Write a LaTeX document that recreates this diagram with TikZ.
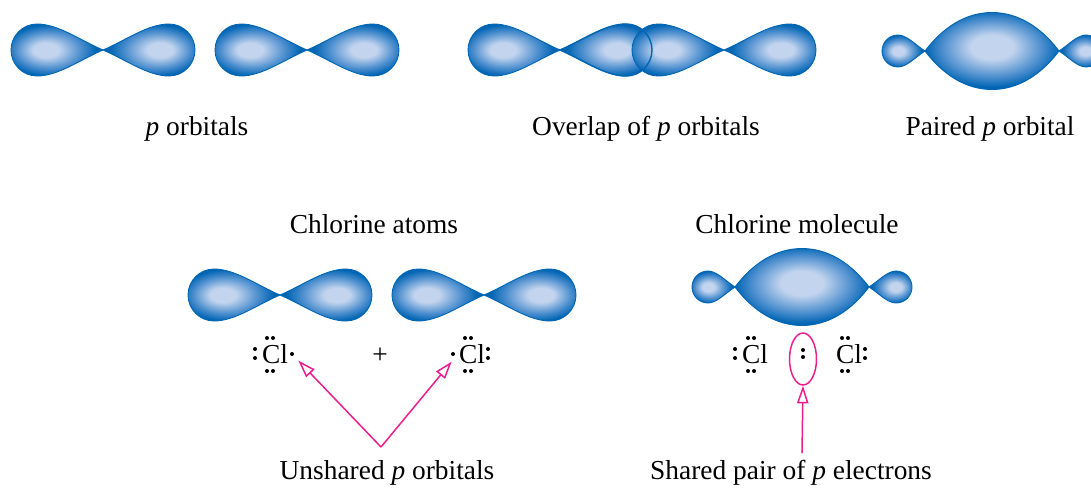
\documentclass[tikz,border=0pt]{standalone}
\usepackage{fontspec}
\setmainfont{Liberation Serif}
\usetikzlibrary{arrows.meta,shapes.geometric}
\definecolor{orblight}{RGB}{194,212,238}
\definecolor{orbmid}{RGB}{72,140,205}
\definecolor{orbdark}{RGB}{0,101,179}
\definecolor{arrowpink}{RGB}{236,30,140}
\pgfdeclareradialshading{lobeglow}{\pgfpoint{-7bp}{0bp}}{color(0bp)=(orblight); color(7bp)=(orblight); color(18bp)=(orbmid); color(25bp)=(orbdark); color(50bp)=(orbdark)}
\pgfdeclareradialshading{lensglow}{\pgfpoint{0bp}{3bp}}{color(0bp)=(orblight); color(8bp)=(orblight); color(19bp)=(orbmid); color(25bp)=(orbdark); color(50bp)=(orbdark)}
\tikzset{
    orbital/.style={shading=lobeglow, draw=orbdark, line width=0.5pt},
    lobe rim/.style={shade=false, draw=orbdark, line width=0.8pt},
    caption/.style={anchor=base, inner sep=0pt},
    atom/.style={anchor=base, inner sep=0pt},
    edot/.style={fill=black},
    pointer/.style={draw=arrowpink, line width=0.85pt, -{Triangle[open, length=10pt, width=6.5pt]}},
    % one lobe: direction (-1 or 1) / length / half height
    pics/lobe/.style args={#1/#2/#3}{code={
        \pgfmathsetmacro\lobeend{#1*#2}
        \pgfmathsetmacro\lobemid{#1*(#2-#3)}
        \pgfmathsetmacro\lobek{#1*0.552*#3}
        \pgfmathsetmacro\lobeang{90+90*#1}
        \path[shading angle=\lobeang, orbital] (0,0)
            .. controls ({0.35*\lobemid},{0.38*#3}) and ({0.68*\lobemid},#3) .. (\lobemid,#3)
            .. controls ({\lobemid+\lobek},#3) and (\lobeend,{0.552*#3}) .. (\lobeend,0)
            .. controls (\lobeend,{-0.552*#3}) and ({\lobemid+\lobek},-#3) .. (\lobemid,-#3)
            .. controls ({0.68*\lobemid},-#3) and ({0.35*\lobemid},{-0.38*#3}) .. (0,0) -- cycle;
    }},
    % bonding lens: width / half height
    pics/lens/.style args={#1/#2}{code={
        \path[orbital, shading=lensglow] (0,0)
            .. controls ({0.13*#1},{0.6*#2}) and ({0.3*#1},#2) .. ({0.5*#1},#2)
            .. controls ({0.7*#1},#2) and ({0.87*#1},{0.6*#2}) .. (#1,0)
            .. controls ({0.87*#1},{-0.6*#2}) and ({0.7*#1},-#2) .. ({0.5*#1},-#2)
            .. controls ({0.3*#1},-#2) and ({0.13*#1},{-0.6*#2}) .. (0,0) -- cycle;
    }},
    pics/p orbital/.style={code={
        \pic at (0,0) {lobe=-1/92/26};
        \pic at (0,0) {lobe=1/92/26};
    }},
    pics/paired orbital/.style={code={
        \pic at (0,0) {lobe=-1/43/16};
        \pic at (134,0) {lobe=1/43/16};
        \pic at (0,0) {lens=134/38.5};
    }}
}
\newcommand{\eldots}[2]{\foreach \dx/\dy in {#2} \fill[edot] ([shift={(\dx,\dy)}]#1.base) circle (2);}

\begin{document}
\begin{tikzpicture}[x=0.02cm, y=-0.02cm, font=\fontsize{15.6}{18}\selectfont]
    \clip (0,0) rectangle (1091,488);

    % top row
    \pic at (103,50) {p orbital};
    \pic at (307,50) {p orbital};
    \pic at (560,50) {p orbital};
    \pic at (724,50) {p orbital};
    \pic[orbital/.style={lobe rim}] at (560,50) {lobe=1/92/26};
    \pic at (925,51) {paired orbital};
    \node[caption] (capP) at (197,135) {\textit{p} orbitals};
    \node[caption] (capOverlap) at (646,135) {Overlap of \textit{p} orbitals};
    \node[caption] (capPaired) at (990,135) {Paired \textit{p} orbital};

    % chlorine
    \node[caption] (titleAtoms) at (374,233) {Chlorine atoms};
    \node[caption] (titleMolecule) at (797,233) {Chlorine molecule};
    \pic at (280,295) {p orbital};
    \pic at (484,295) {p orbital};
    \pic at (735,287) {paired orbital};

    \node[atom] (clA) at (275,363) {Cl};
    \node[atom] (plus) at (380,363) {+};
    \node[atom] (clB) at (472,363) {Cl};
    \node[atom] (clC) at (755,363) {Cl};
    \node[atom] (clD) at (849,363) {Cl};
    \node[ellipse, draw=arrowpink, line width=0.85pt, inner sep=0pt,
          minimum width=0.54cm, minimum height=1.04cm] (bond) at (803,359) {};
    \eldots{clA}{-20/-14, -20/-5, -8/-25, -2/-25, -8/8, -2/8, 17/-9}
    \eldots{clB}{-19/-9, -7/-25, -1/-25, -7/8, -1/8, 16/-14, 16/-5}
    \eldots{clC}{-20/-14, -20/-5, -7/-25, -1/-25, -7/8, -1/8}
    \eldots{clD}{-7/-25, -1/-25, -7/8, -1/8, 16/-14, 16/-5}
    \foreach \dy in {-9,-2} \fill[edot] ([shift={(0,\dy)}]bond.center) circle (2);

    \coordinate (vtip) at (381,447);
    \coordinate (sharedtail) at (802,453);
    \draw[pointer] (vtip) -- ([shift={(10,-3)}]clA.south east);
    \draw[pointer] (vtip) -- ([shift={(-7,-2)}]clB.south west);
    \draw[pointer] (sharedtail) -- (bond.south);
    \node[caption] (capUnshared) at (387,479) {Unshared \textit{p} orbitals};
    \node[caption] (capShared) at (791,479) {Shared pair of \textit{p} electrons};
\end{tikzpicture}
\end{document}
